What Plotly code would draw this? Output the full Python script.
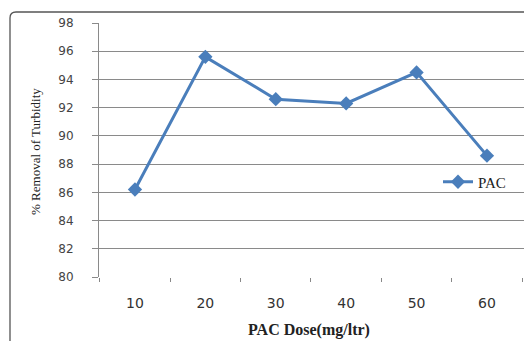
import plotly.graph_objects as go

doses = [10, 20, 30, 40, 50, 60]
removal = [86.2, 95.6, 92.6, 92.3, 94.5, 88.6]
y_ticks = [80, 82, 84, 86, 88, 90, 92, 94, 96, 98]
series_name = "PAC"

W, H = 524, 341
L, R, T, B = 99, 0, 23, 64
pw, ph = W - L - R, H - T - B

def px(x):
    return (x - L) / pw

def py(y):
    return (H - B - y) / ph

blue = "#4A7EBB"

fig = go.Figure()
fig.add_trace(go.Scatter(
    x=doses, y=removal, mode="lines+markers", name=series_name,
    line=dict(color=blue, width=3),
    marker=dict(symbol="diamond", size=11, color=blue),
))

# rounded outer border (extends past right/bottom edge)
x0, y0, r = 10, 12, 6
path = (f"M {px(x0)} {py(H + 20)} L {px(x0)} {py(y0 + r)} "
        f"Q {px(x0)} {py(y0)} {px(x0 + r)} {py(y0)} L {px(W + 20)} {py(y0)}")

fig.update_layout(
    width=W, height=H,
    margin=dict(l=L, r=R, t=T, b=B),
    paper_bgcolor="white", plot_bgcolor="white",
    showlegend=True,
    legend=dict(x=px(438), y=py(182), xanchor="left", yanchor="middle",
                bgcolor="rgba(0,0,0,0)",
                font=dict(family="Liberation Serif", size=15, color="#222")),
    xaxis=dict(range=[4.89, 65.26], tickvals=doses,
               ticktext=[str(d) for d in doses],
               ticks="", showgrid=False, zeroline=False,
               showline=False,
               tickfont=dict(family="DejaVu Sans", size=14, color="#333"),
               ticklabelstandoff=16,
               minor=dict(ticks="outside", ticklen=4, tick0=5, dtick=10,
                          tickcolor="#888", showgrid=False)),
    yaxis=dict(range=[80, 98], tickvals=y_ticks, showgrid=True,
               gridcolor="#8a8a8a", gridwidth=1, zeroline=False,
               showline=True, linecolor="#8a8a8a", linewidth=1,
               ticks="outside", ticklen=6, tickcolor="#8a8a8a",
               ticklabelstandoff=16,
               tickfont=dict(family="DejaVu Sans", size=12, color="#444")),
    shapes=[dict(type="path", path=path, xref="paper", yref="paper",
                 line=dict(color="#555", width=1.3), layer="above")],
    annotations=[
        dict(text="% Removal of Turbidity", xref="paper", yref="paper",
             x=px(35), y=py(152), textangle=-90, showarrow=False,
             xanchor="center", yanchor="middle",
             font=dict(family="Liberation Serif", size=13, color="#222")),
        dict(text="<b>PAC Dose(mg/ltr)</b>", xref="paper", yref="paper",
             x=px(309), y=py(330), showarrow=False,
             xanchor="center", yanchor="middle",
             font=dict(family="Liberation Serif", size=16, color="#222")),
    ],
)

fig.write_html("out.html")
